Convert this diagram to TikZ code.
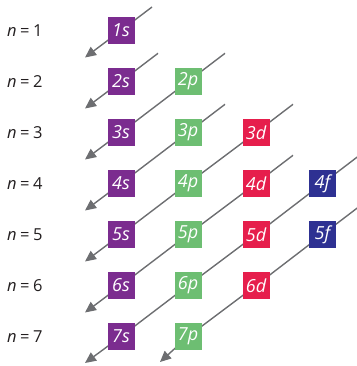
\documentclass[tikz,border=0pt]{standalone}
\usepackage{fontspec}
\setmainfont{Open Sans}
\usetikzlibrary{arrows.meta,calc,backgrounds}
\definecolor{orbS}{HTML}{7B2C8F}
\definecolor{orbP}{HTML}{6DBE72}
\definecolor{orbD}{HTML}{E61E4C}
\definecolor{orbF}{HTML}{2E3192}
\definecolor{lineg}{HTML}{6D6E71}
\definecolor{txt}{HTML}{231F20}
\begin{document}
\begin{tikzpicture}[x=1pt,y=-1pt,
  orb/.style={minimum size=27pt, inner sep=0pt, text=white, font=\fontsize{18}{18}\selectfont\itshape},
  sorb/.style={orb, fill=orbS},
  porb/.style={orb, fill=orbP},
  dorb/.style={orb, fill=orbD},
  forb/.style={orb, fill=orbF},
  lab/.style={anchor=west, inner sep=0pt, text=txt, font=\fontsize{16.5}{16.5}\selectfont},
  diag/.style={draw=lineg, line width=1.4pt},
  diagarr/.style={diag, -{Triangle[length=11pt,width=10pt]}}]
\useasboundingbox (0,0) rectangle (356,366);
% labels
\foreach \k in {1,...,7}{
  \node[lab] (n\k) at (7,{30.5+51*(\k-1)}) {\textit{n}\hspace{3.5pt}=\hspace{3.5pt}\k};
}
% orbitals
\node[sorb] (s1) at (121,30.5) {1s};
\node[sorb] (s2) at (121,81.5) {2s};
\node[sorb] (s3) at (121,132.5) {3s};
\node[sorb] (s4) at (121,183.5) {4s};
\node[sorb] (s5) at (121,234.5) {5s};
\node[sorb] (s6) at (121,285.5) {6s};
\node[sorb] (s7) at (121,336.5) {7s};
\node[porb] (p2) at (188,81.5) {2p};
\node[porb] (p3) at (188,132.5) {3p};
\node[porb] (p4) at (188,183.5) {4p};
\node[porb] (p5) at (188,234.5) {5p};
\node[porb] (p6) at (188,285.5) {6p};
\node[porb] (p7) at (188,336.5) {7p};
\node[dorb] (d3) at (256,132.5) {3d};
\node[dorb] (d4) at (256,183.5) {4d};
\node[dorb] (d5) at (256,234.5) {5d};
\node[dorb] (d6) at (256,285.5) {6d};
\node[forb] (f4) at (322.5,183.5) {4f};
\node[forb] (f5) at (322.5,234.5) {5f};
% line ends
\coordinate (t1) at ($(s1)+(31,-23.5)$);
\coordinate (t2) at ($(s2)+(37,-28.2)$);
\coordinate (t3) at ($(p2)+(37,-28.2)$);
\coordinate (t4) at ($(p3)+(37,-28.2)$);
\coordinate (t5) at ($(d3)+(37,-28.2)$);
\coordinate (t6) at ($(d4)+(37,-28.2)$);
\coordinate (t7) at ($(f4)+(37,-28.2)$);
\coordinate (t8) at ($(f5)+(37,-28.2)$);
\coordinate (a1) at ($(s1)+(-36,27)$);
\coordinate (a2) at ($(s2)+(-36,27)$);
\coordinate (a3) at ($(s3)+(-36,27)$);
\coordinate (a4) at ($(s4)+(-36,27)$);
\coordinate (a5) at ($(s5)+(-36,27)$);
\coordinate (a6) at ($(s6)+(-36,27)$);
\coordinate (a7) at ($(s7)+(-36,26.5)$);
\coordinate (a8) at ($(p7)+(-28,25.5)$);
\begin{scope}[on background layer]
\draw[diagarr] (t1) -- (s1.center) -- (a1);
\draw[diagarr] (t2) -- (s2.center) -- (a2);
\draw[diagarr] (t3) -- (p2.center) -- (s3.center) -- (a3);
\draw[diagarr] (t4) -- (p3.center) -- (s4.center) -- (a4);
\draw[diagarr] (t5) -- (d3.center) -- (p4.center) -- (s5.center) -- (a5);
\draw[diagarr] (t6) -- (d4.center) -- (p5.center) -- (s6.center) -- (a6);
\draw[diagarr] (t7) -- (f4.center) -- (d5.center) -- (p6.center) -- (s7.center) -- (a7);
\draw[diagarr] (t8) -- (f5.center) -- (d6.center) -- (p7.center) -- (a8);
\end{scope}
\end{tikzpicture}
\end{document}
